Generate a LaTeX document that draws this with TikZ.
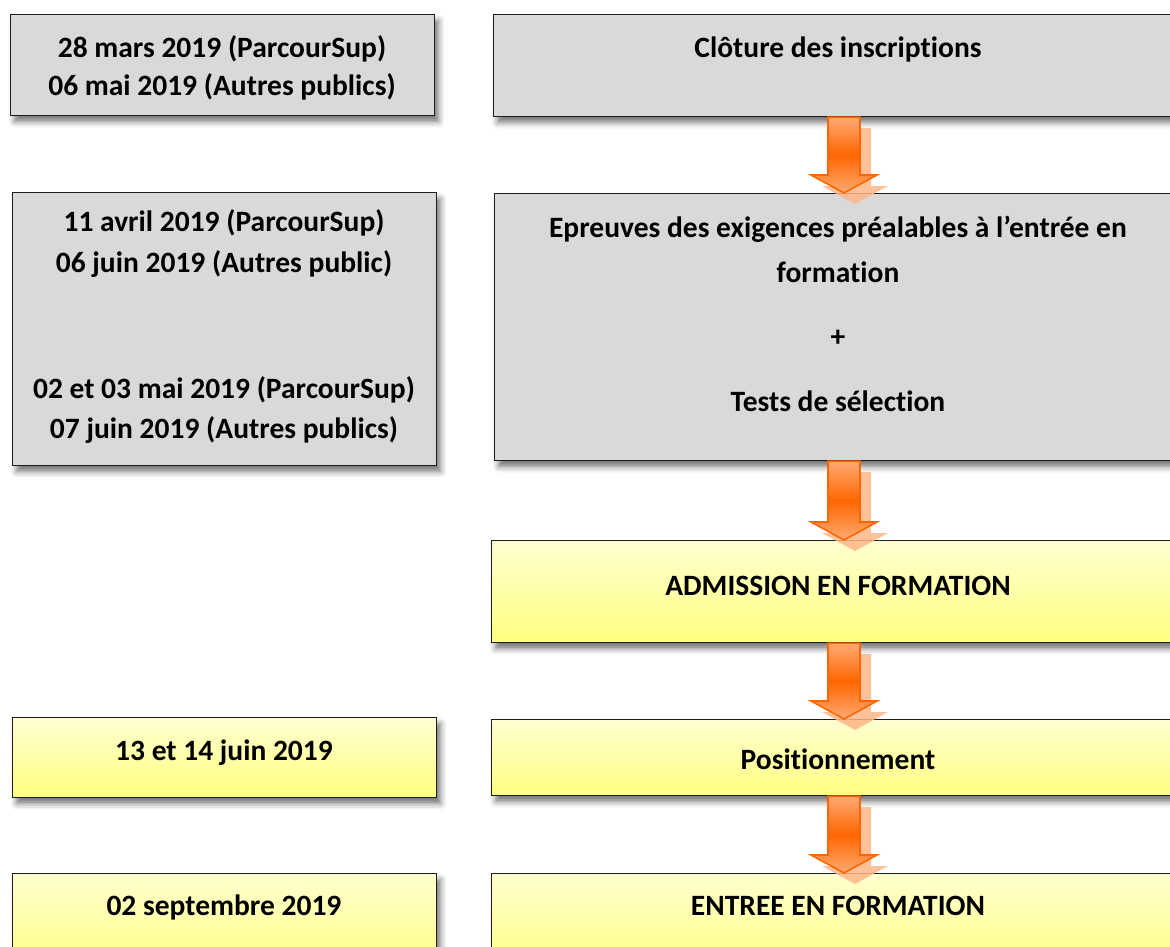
\documentclass[tikz,border=0pt]{standalone}
\usepackage{fontspec}
\setmainfont[Ligatures=NoCommon]{Carlito}
\usetikzlibrary{calc,shadows.blur}
\definecolor{boxgray}{RGB}{217,217,217}
\definecolor{ytop}{RGB}{255,255,208}
\definecolor{ybot}{RGB}{255,255,128}
\definecolor{arrline}{RGB}{255,102,0}
\definecolor{arrlight}{RGB}{255,170,115}
\definecolor{arrshadow}{RGB}{255,182,135}
\definecolor{edge}{RGB}{30,30,30}
\tikzset{
  basebox/.style={draw=edge, line width=1.2pt, anchor=north west, inner sep=0pt,
    blur shadow={shadow xshift=4pt, shadow yshift=-6pt, shadow blur radius=6pt, shadow opacity=55}},
  graybox/.style={basebox, fill=boxgray},
  yellowbox/.style={basebox, top color=ytop, bottom color=ybot},
  txt/.style={font=\bfseries\fontsize{29.5}{34}\selectfont, anchor=base, inner sep=0pt, text=black},
  arrowbody/.style={draw=arrline, line width=1.6pt, line join=miter,
    shading=axis, top color=arrlight, bottom color=arrlight, middle color=arrline},
  arrowshade/.style={fill=arrshadow, draw=none, opacity=0.85}
}
\newcommand\flowarrow[2]{%
  \fill[arrowshade] let \p1=(#1.south -| ax), \p2=(#2.north -| ax) in
    (\x1-5pt,\y1-11pt) -- (\x1+27pt,\y1-11pt) -- (\x1+27pt,\y2+7pt) --
    (\x1+44pt,\y2+7pt) -- (\x1+11pt,\y2-11pt) -- (\x1-22pt,\y2+7pt) --
    (\x1-5pt,\y2+7pt) -- cycle;
  \path[arrowbody] let \p1=(#1.south -| ax), \p2=(#2.north -| ax) in
    (\x1-16pt,\y1) -- (\x1+16pt,\y1) -- (\x1+16pt,\y2+18pt) --
    (\x1+33pt,\y2+18pt) -- (\x1,\y2) -- (\x1-33pt,\y2+18pt) --
    (\x1-16pt,\y2+18pt) -- cycle;
}
\begin{document}
\begin{tikzpicture}[x=1pt,y=1pt]
\useasboundingbox (0,0) rectangle (1170,-946);
\coordinate (ax) at (844,0);
% left column
\node[graybox, minimum width=424pt, minimum height=101pt] (L1) at (10,-14) {};
\node[graybox, minimum width=424pt, minimum height=273pt] (L2) at (12,-192) {};
\node[yellowbox, minimum width=424pt, minimum height=80pt] (L3) at (12,-717) {};
\node[yellowbox, minimum width=424pt, minimum height=100pt] (L4) at (12,-873) {};
% right column
\node[graybox, minimum width=690pt, minimum height=102pt] (R1) at (493,-14) {};
\node[graybox, minimum width=690pt, minimum height=267pt] (R2) at (494,-193) {};
\node[yellowbox, minimum width=690pt, minimum height=102pt] (R3) at (491,-540) {};
\node[yellowbox, minimum width=690pt, minimum height=76pt] (R4) at (491,-719) {};
\node[yellowbox, minimum width=690pt, minimum height=100pt] (R5) at (491,-873) {};
% texts left
\node[txt] (t11) at (222,-57) {28 mars 2019 (ParcourSup)};
\node[txt] (t12) at (222,-95) {06 mai 2019 (Autres publics)};
\node[txt] (t21) at (224,-231) {11 avril 2019 (ParcourSup)};
\node[txt] (t22) at (224,-272) {06 juin 2019 (Autres public)};
\node[txt] (t23) at (224,-398) {02 et 03 mai 2019 (ParcourSup)};
\node[txt] (t24) at (224,-438) {07 juin 2019 (Autres publics)};
\node[txt] (t31) at (224,-760) {13 et 14 juin 2019};
\node[txt] (t41) at (224,-915) {02 septembre 2019};
% texts right
\node[txt] (r11) at (838,-57) {Clôture des inscriptions};
\node[txt] (r21) at (838,-237) {Epreuves des exigences préalables à l’entrée en};
\node[txt] (r22) at (838,-282) {formation};
\node[txt] (r23) at (838,-346) {+};
\node[txt] (r24) at (838,-411) {Tests de sélection};
\node[txt] (r31) at (838,-595) {ADMISSION EN FORMATION};
\node[txt] (r41) at (838,-769) {Positionnement};
\node[txt] (r51) at (838,-915) {ENTREE EN FORMATION};
% arrows
\flowarrow{R1}{R2}
\flowarrow{R2}{R3}
\flowarrow{R3}{R4}
\flowarrow{R4}{R5}
\end{tikzpicture}
\end{document}
